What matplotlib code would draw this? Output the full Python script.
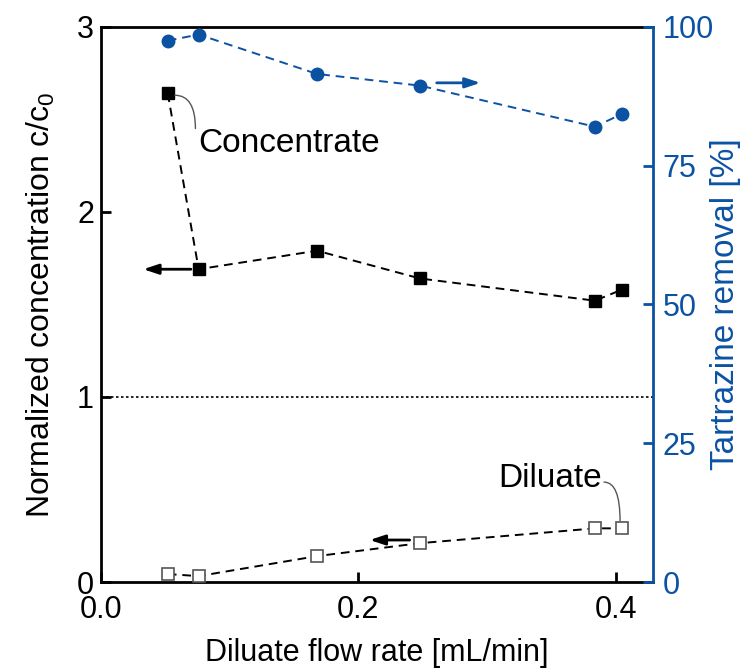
import numpy as np
import matplotlib
matplotlib.use("Agg")
import matplotlib.pyplot as plt

plt.rcParams['font.family'] = ['Liberation Sans', 'DejaVu Sans']
plt.rcParams['mathtext.fontset'] = 'custom'
plt.rcParams['mathtext.rm'] = 'Liberation Sans'
plt.rcParams['mathtext.it'] = 'Liberation Sans'

BLUE = '#0b52a3'

# ---------- data ----------
flow = [0.052, 0.076, 0.168, 0.248, 0.384, 0.405]          # mL/min
conc_concentrate = [2.64, 1.69, 1.79, 1.64, 1.52, 1.58]   # c/c0
conc_diluate = [0.043, 0.032, 0.14, 0.21, 0.29, 0.29]      # c/c0
removal = [97.5, 98.6, 91.5, 89.4, 82.0, 84.3]              # %

x_ticks = [0.0, 0.2, 0.4]
x_ticklabels = ['0.0', '0.2', '0.4']
y_ticks = [0, 1, 2, 3]
y2_ticks = [0, 25, 50, 75, 100]

fig = plt.figure(figsize=(7.47, 6.69), dpi=100)
ax = fig.add_axes([0.135, 0.130, 0.739, 0.830])
ax2 = ax.twinx()

dash = (0, (4.5, 3))

# ---------- left axis ----------
ax.axhline(1.0, color='black', linestyle=(0, (1.5, 1.5)), linewidth=1.2, zorder=1)
ax.plot(flow, conc_concentrate, linestyle=dash, color='black', linewidth=1.4,
        marker='s', markersize=8, markerfacecolor='black', markeredgecolor='black', zorder=3)
ax.plot(flow, conc_diluate, linestyle=dash, color='black', linewidth=1.4,
        marker='s', markersize=8, markerfacecolor='white', markeredgecolor='#555555',
        markeredgewidth=1.2, zorder=3)

ax.set_xlim(0, 0.429)
ax.set_ylim(0, 3)
ax.set_xticks(x_ticks)
ax.set_xticklabels(x_ticklabels)
ax.set_yticks(y_ticks)
ax.tick_params(axis='both', direction='in', length=7, width=2, labelsize=22, pad=5)
ax.tick_params(axis='x', pad=9)
ax.set_xlabel('Diluate flow rate [mL/min]', fontsize=22, labelpad=10)
ax.set_ylabel('Normalized concentration c/c$_0$', fontsize=23)
ax.yaxis.set_label_coords(-0.08, 0.5)

# arrows pointing at the axis each series belongs to
arrow = dict(arrowstyle='-|>,head_length=0.9,head_width=0.3', color='black', lw=2,
             shrinkA=0, shrinkB=0)
ax.annotate('', xy=(0.033, 1.69), xytext=(0.070, 1.69), arrowprops=arrow)
ax.annotate('', xy=(0.209, 0.227), xytext=(0.240, 0.227), arrowprops=arrow)

# labels with thin connector lines
ax.text(0.0755, 2.325, 'Concentrate', fontsize=24, ha='left', va='baseline')
ax.annotate('', xy=(0.0575, 2.63), xytext=(0.0735, 2.45),
            arrowprops=dict(arrowstyle='-', color='#555555', lw=1, shrinkA=0, shrinkB=0,
                            connectionstyle='angle3,angleA=90,angleB=0'))
ax.text(0.389, 0.514, 'Diluate', fontsize=24, ha='right', va='baseline')
ax.annotate('', xy=(0.4035, 0.33), xytext=(0.391, 0.54),
            arrowprops=dict(arrowstyle='-', color='#555555', lw=1, shrinkA=0, shrinkB=0,
                            connectionstyle='angle3,angleA=0,angleB=90'))

# ---------- right axis ----------
ax2.plot(flow, removal, linestyle=dash, color=BLUE, linewidth=1.4,
         marker='o', markersize=9, markerfacecolor=BLUE, markeredgecolor=BLUE, zorder=3)
ax2.annotate('', xy=(0.295, 89.9), xytext=(0.261, 89.9),
             arrowprops=dict(arrow, color=BLUE))
ax2.set_ylim(0, 100)
ax2.set_yticks(y2_ticks)
ax2.tick_params(axis='y', direction='in', length=7, width=2, labelsize=22,
                colors=BLUE, pad=7)
ax2.set_ylabel('Tartrazine removal [%]', fontsize=24, color=BLUE)
ax2.yaxis.set_label_coords(1.103, 0.5)

for a in (ax, ax2):
    for s in a.spines.values():
        s.set_linewidth(2)
ax2.spines['right'].set_color(BLUE)
ax2.spines['left'].set_visible(False)
ax2.spines['top'].set_visible(False)
ax2.spines['bottom'].set_visible(False)
ax.spines['right'].set_visible(False)

fig.savefig('out.png', dpi=100)
